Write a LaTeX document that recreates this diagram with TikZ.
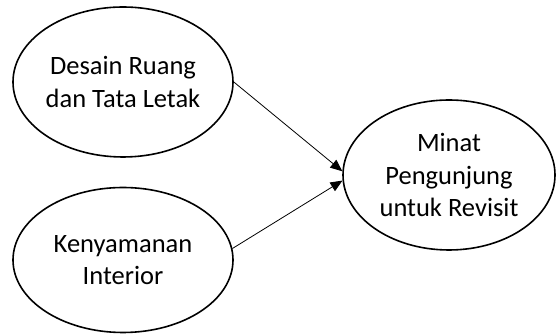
\documentclass[tikz,border=0pt]{standalone}
\usepackage{fontspec}
\setmainfont{Carlito}
\usetikzlibrary{shapes.geometric,arrows.meta}
\tikzset{
  oval/.style={ellipse, draw, line width=1.6pt, inner sep=0pt, align=center,
    font=\fontsize{26.5}{32.5}\selectfont},
  link/.style={line width=0.8pt, -{Triangle[length=12pt,width=10pt]}}
}
\begin{document}
\begin{tikzpicture}[x=1pt,y=1pt]
\useasboundingbox (0,0) rectangle (556,336);
\node[oval, minimum width=220pt, minimum height=150pt] (e1) at (123,254) {Desain Ruang\\dan Tata Letak};
\node[oval, minimum width=220pt, minimum height=145pt] (e2) at (123,76) {Kenyamanan\\Interior};
\node[oval, minimum width=212pt, minimum height=150pt] (e3) at (449,161) {Minat\\Pengunjung\\untuk Revisit};
\draw[link] (e1.east) -- (e3.178);
\draw[link] (e2.6) -- (e3.183);
\end{tikzpicture}
\end{document}
